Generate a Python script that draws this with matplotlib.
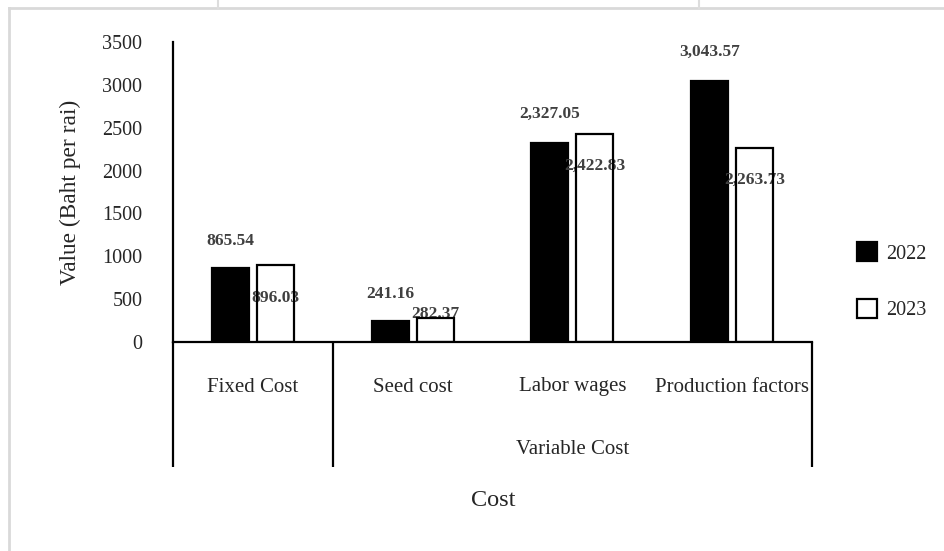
import matplotlib
matplotlib.use("Agg")
import matplotlib.pyplot as plt
from matplotlib.lines import Line2D
from matplotlib.patches import Patch
import numpy as np

# ---- data ----
categories = ["Fixed Cost", "Seed cost", "Labor wages", "Production factors"]
group_names = ["", "Variable Cost"]
group_sizes = [1, 3]
series_names = ["2022", "2023"]
values_2022 = [865.54, 241.16, 2327.05, 3043.57]
values_2023 = [896.03, 282.37, 2422.83, 2263.73]
label_2022 = ["865.54", "241.16", "2,327.05", "3,043.57"]
label_2023 = ["896.03", "282.37", "2,422.83", "2,263.73"]
y_ticks = [0, 500, 1000, 1500, 2000, 2500, 3000, 3500]
x_title = "Cost"
y_title = "Value (Baht per rai)"

# data-label vertical offsets from bar tops (as placed in the source)
label_dy_2022 = [312, 319, 333, 340]
label_dy_2023 = [-383, 45, -370, -374]

plt.rcParams['font.family'] = ['Liberation Serif', 'DejaVu Serif']

W, H = 945, 551
fig = plt.figure(figsize=(W / 100, H / 100), dpi=100)


def fx(px):
    return px / W


def fy(py):
    return 1 - py / H


ax_l, ax_r, ax_t, ax_b = 173, 812, 42, 342
ax = fig.add_axes([fx(ax_l), fy(ax_b), (ax_r - ax_l) / W, (ax_b - ax_t) / H])

x = np.arange(len(categories))
bw = 0.232
off = 0.141
lw = 1.6

ax.bar(x - off, values_2022, bw, color='black', edgecolor='black', linewidth=lw, zorder=2)
ax.bar(x + off, values_2023, bw, color='white', edgecolor='none', zorder=2)
ax.bar(x + off, values_2023, bw, fill=False, edgecolor='black', linewidth=lw, zorder=4)

lab_color = '#404040'
for i in range(len(categories)):
    ax.text(x[i] - off, values_2022[i] + label_dy_2022[i], label_2022[i], ha='center', va='center',
            fontsize=12.5, fontweight='bold', color=lab_color, zorder=3, clip_on=False)
    ax.text(x[i] + off, values_2023[i] + label_dy_2023[i], label_2023[i], ha='center', va='center',
            fontsize=12.5, fontweight='bold', color=lab_color, zorder=3, clip_on=False)

ax.set_xlim(-0.5, len(categories) - 0.5)
ax.set_ylim(0, 3500)
ax.set_yticks(y_ticks)
ax.set_xticks([])
ax.tick_params(axis='y', length=0, pad=22, labelsize=14.5, labelcolor='#262626')
for s in ['top', 'right']:
    ax.spines[s].set_visible(False)
ax.spines['left'].set_linewidth(lw)
ax.spines['bottom'].set_linewidth(lw)
ax.patch.set_alpha(0)

# multi-level category axis
trans = ax.get_xaxis_transform()
y_low = (ax_b - 467) / (ax_b - ax_t)
bounds = [-0.5]
for g in group_sizes:
    bounds.append(bounds[-1] + g)
for b in bounds:
    ax.plot([b, b], [0, y_low], color='black', lw=lw, transform=trans, clip_on=False,
            solid_capstyle='butt')

y_cat = (ax_b - 387) / (ax_b - ax_t)
for i, c in enumerate(categories):
    ax.text(x[i], y_cat, c, transform=trans, ha='center', va='center', fontsize=15, color='#262626')

y_grp = (ax_b - 450) / (ax_b - ax_t)
for gi, g in enumerate(group_names):
    if g:
        mid = (bounds[gi] + bounds[gi + 1]) / 2
        ax.text(mid, y_grp, g, transform=trans, ha='center', va='center', fontsize=15, color='#262626')

# axis titles
fig.text(fx(70), fy(192), y_title, rotation=90, ha='center', va='center', fontsize=16.8, color='#262626')
fig.text(fx(493), fy(501), x_title, ha='center', va='center', fontsize=17.5, color='#262626')

# legend
handles = [Patch(facecolor='black', edgecolor='black', linewidth=lw),
           Patch(facecolor='white', edgecolor='black', linewidth=lw)]
fig.legend(handles=handles, labels=series_names, loc='upper left',
           bbox_to_anchor=(fx(857), fy(242)), frameon=False, fontsize=14.5,
           handlelength=1.0, handleheight=1.1, handletextpad=0.45, labelspacing=1.75,
           borderpad=0, borderaxespad=0, labelcolor='#262626')

# outer light-gray frame
fig.add_artist(Line2D([fx(9), 1], [fy(8), fy(8)], color='#d9d9d9', lw=2))
fig.add_artist(Line2D([fx(9), fx(9)], [fy(8), 0], color='#d9d9d9', lw=2))
# faint watermark remnants at top
for px in [218, 699]:
    fig.add_artist(Line2D([fx(px), fx(px)], [1, fy(8)], color='#dddddd', lw=1.5))

fig.savefig('out.png', dpi=100)
